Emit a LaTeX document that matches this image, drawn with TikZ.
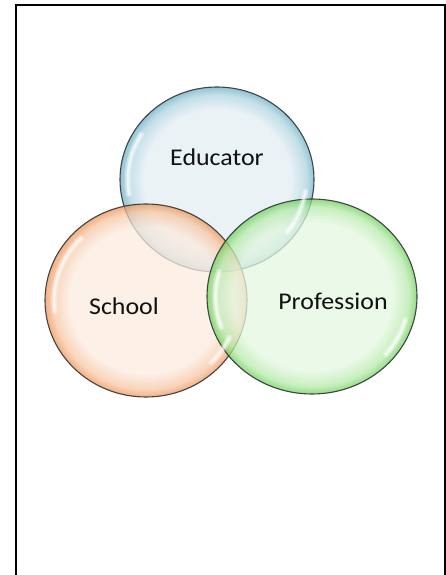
\documentclass[tikz,border=0pt]{standalone}
\usepackage{fontspec}
\setmainfont{Carlito}
\usetikzlibrary{shapes.geometric,calc}
\definecolor{blin}{HTML}{E3EEF4}
\definecolor{blmid}{HTML}{AED4E0}
\definecolor{blout}{HTML}{6FB1C6}
\definecolor{orin}{HTML}{FCEBE0}
\definecolor{ormid}{HTML}{F7C7A4}
\definecolor{orout}{HTML}{EE965A}
\definecolor{grin}{HTML}{E5F7E1}
\definecolor{grmid}{HTML}{B6EBAB}
\definecolor{grout}{HTML}{72CF5F}
\definecolor{edgec}{HTML}{2E3436}
\definecolor{textc}{HTML}{111111}
\pgfdeclareradialshading{bubbleblue}{\pgfpoint{0bp}{0bp}}{color(0bp)=(blin); color(19bp)=(blin); color(23bp)=(blmid); color(25bp)=(blout); color(50bp)=(blout)}
\pgfdeclareradialshading{bubbleorange}{\pgfpoint{0bp}{0bp}}{color(0bp)=(orin); color(19bp)=(orin); color(23bp)=(ormid); color(25bp)=(orout); color(50bp)=(orout)}
\pgfdeclareradialshading{bubblegreen}{\pgfpoint{0bp}{0bp}}{color(0bp)=(grin); color(19bp)=(grin); color(23bp)=(grmid); color(25bp)=(grout); color(50bp)=(grout)}
\tikzset{
  bubble/.style={ellipse, inner sep=0pt, outer sep=0pt, draw=edgec, line width=1.1pt, shade, fill opacity=0.75, draw opacity=0.9},
  label text/.style={font=\fontsize{24}{28}\selectfont, xscale=1.08, anchor=base, text=textc},
  glint/.style={white, line cap=round, opacity=0.35, line width=6pt},
  glintcore/.style={white, line cap=round, opacity=0.6, line width=2.5pt},
  frameline/.style={black, line width=1.8pt}
}
\newcommand{\myglint}[7]{% center x, y, rx, ry, a1, a2, factor
  \draw[glint] ($(#1,#2)+(#5:#7*#3 and #7*#4)$) arc[start angle=#5, end angle=#6, x radius=#7*#3, y radius=#7*#4];
  \draw[glintcore] ($(#1,#2)+(#5:#7*#3 and #7*#4)$) arc[start angle=#5, end angle=#6, x radius=#7*#3, y radius=#7*#4];
}
\begin{document}
\begin{tikzpicture}[x=1pt,y=1pt]
\useasboundingbox (0,0) rectangle (446,575);
\fill[white] (0,0) rectangle (446,575);
\draw[frameline] (16,-5) -- (16,570) -- (445,570) -- (445,-5);
% circles
\node[bubble, shading=bubbleblue, minimum width=194pt, minimum height=185pt] (edu) at (217,395.5) {};
\node[bubble, shading=bubbleorange, minimum width=202pt, minimum height=193pt] (sch) at (146,274.5) {};
\node[bubble, shading=bubblegreen, minimum width=210pt, minimum height=195pt] (pro) at (312,278.5) {};
% highlights
\myglint{217}{395.5}{97}{92.5}{148}{190}{0.92}
\myglint{217}{395.5}{97}{92.5}{-38}{-8}{0.92}
\myglint{146}{274.5}{101}{96.5}{135}{187}{0.91}
\myglint{146}{274.5}{101}{96.5}{-45}{-25}{0.91}
\myglint{312}{278.5}{105}{97.5}{164}{200}{0.92}
\myglint{312}{278.5}{105}{97.5}{-40}{-15}{0.92}
% labels
\node[label text] (edutext) at (217,409) {Educator};
\node[label text] (schtext) at (124,260) {School};
\node[label text] (protext) at (333,265) {Profession};
\end{tikzpicture}
\end{document}
